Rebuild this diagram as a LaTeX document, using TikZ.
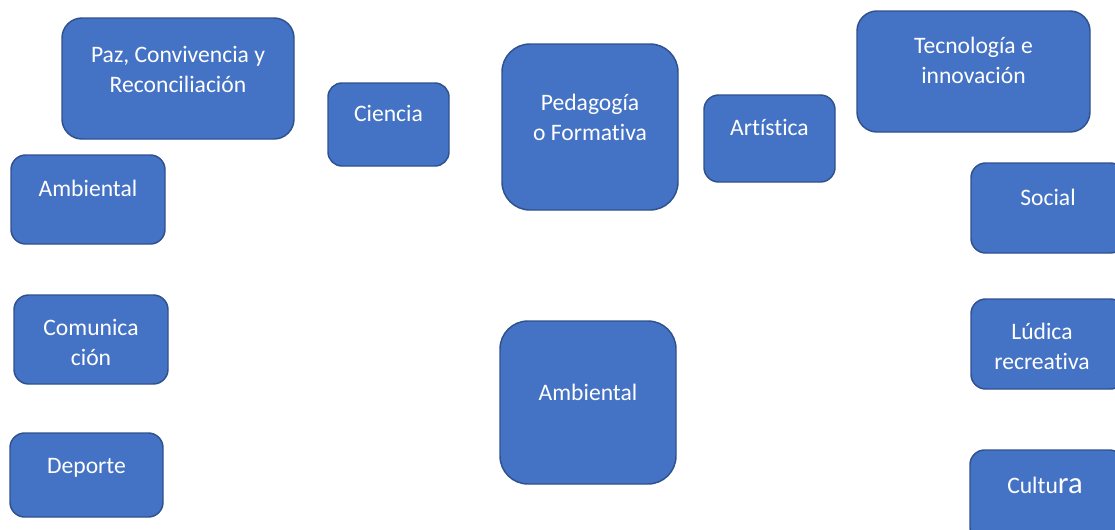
\documentclass[tikz,border=0pt]{standalone}
\usepackage{fontspec}
\setmainfont{Carlito}[Ligatures=NoCommon]
\usepackage{tikz}
\usetikzlibrary{positioning}
\definecolor{azul}{HTML}{4472C4}
\definecolor{bordeazul}{HTML}{2F528F}
\tikzset{
  caja/.style={draw=bordeazul, fill=azul, line width=1.1pt, rounded corners=11pt},
  cajagrande/.style={caja, rounded corners=21pt},
  cajaancha/.style={caja, rounded corners=15pt},
  texto/.style={text=white, font=\fontsize{17.7}{22.5}\selectfont, align=center}
}
\begin{document}
\begin{tikzpicture}[x=0.75pt,y=-0.75pt]
\useasboundingbox (0,0) rectangle (1115,529);
\clip (0,0) rectangle (1115,529);
% columna izquierda
\node[cajaancha, minimum width=174pt, minimum height=90.75pt,
  label={[texto, yshift=7pt]center:{Paz, Convivencia y\\Reconciliación}}] (paz) at (178,78.5) {};
\node[caja, minimum width=115.5pt, minimum height=66.75pt,
  label={[texto, yshift=8.6pt]center:Ambiental}] (ambiental) at (88,199.5) {};
\node[caja, minimum width=115.5pt, minimum height=66.75pt,
  label={[texto, yshift=-1.9pt]center:{Comunica\\ción}}] (comunicacion) at (91,339.5) {};
\node[caja, minimum width=114.75pt, minimum height=63pt,
  label={[texto, yshift=5.5pt]center:Deporte}] (deporte) at (86.5,475) {};
% centro
\node[caja, rounded corners=10.5pt, minimum width=90.75pt, minimum height=62.25pt,
  label={[texto, yshift=8.6pt]center:Ciencia}] (ciencia) at (388.5,124.5) {};
\node[cajagrande, minimum width=132pt, minimum height=124.5pt,
  label={[texto, yshift=7pt]center:{Pedagogía\\o Formativa}}] (pedagogia) at (590,127) {};
\node[caja, minimum width=98.25pt, minimum height=65.25pt,
  label={[texto, yshift=8pt]center:Artística}] (artistica) at (769.5,138.5) {};
\node[cajagrande, minimum width=132pt, minimum height=122.25pt,
  label={[texto, yshift=7.9pt]center:Ambiental}] (ambientalc) at (588,402.5) {};
% columna derecha
\node[cajaancha, minimum width=174.75pt, minimum height=90.75pt,
  label={[texto, yshift=8.2pt]center:{Tecnología e\\innovación}}] (tecnologia) at (973.5,71.5) {};
\node[caja, minimum width=115.5pt, minimum height=67.5pt,
  label={[texto, yshift=8.2pt]center:Social}] (social) at (1048,208) {};
\node[caja, minimum width=115.5pt, minimum height=67.5pt,
  label={[texto, yshift=-1.5pt, xshift=-4.5pt]center:{Lúdica\\recreativa}}] (ludica) at (1048,344) {};
\node[caja, minimum width=115.5pt, minimum height=69pt,
  label={[texto, yshift=8.2pt, xshift=-1.5pt]center:{Cultu{\fontsize{23}{22.5}\selectfont ra}}}] (cultura) at (1047,496) {};
\end{tikzpicture}
\end{document}
